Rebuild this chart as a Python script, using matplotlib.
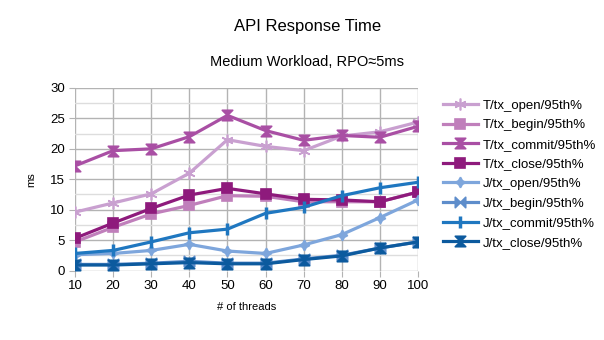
import numpy as np
import matplotlib
matplotlib.use("Agg")
import matplotlib.pyplot as plt
from matplotlib.path import Path
from matplotlib.ticker import MultipleLocator

plt.rcParams["font.family"] = ["Liberation Sans", "DejaVu Sans"]

# data
threads = [10, 20, 30, 40, 50, 60, 70, 80, 90, 100]

t_open = [9.6, 11.1, 12.6, 16.0, 21.5, 20.4, 19.7, 22.1, 22.8, 24.4]
t_begin = [4.7, 7.1, 9.3, 10.7, 12.3, 12.2, 11.3, 11.3, 11.3, 12.9]
t_commit = [17.2, 19.7, 20.0, 22.0, 25.5, 23.0, 21.4, 22.2, 21.9, 23.7]
t_close = [5.3, 7.8, 10.2, 12.4, 13.5, 12.6, 11.7, 11.6, 11.3, 12.9]
j_open = [2.6, 2.8, 3.3, 4.3, 3.2, 2.8, 4.2, 5.9, 8.7, 11.6]
j_begin = [1.0, 1.0, 1.2, 1.5, 1.2, 1.2, 1.9, 2.5, 3.7, 4.7]
j_commit = [2.8, 3.3, 4.7, 6.2, 6.8, 9.4, 10.4, 12.3, 13.6, 14.5]
j_close = [0.9, 0.9, 1.1, 1.3, 1.1, 1.1, 1.8, 2.4, 3.7, 4.7]

labels = ["T/tx_open/95th%", "T/tx_begin/95th%", "T/tx_commit/95th%", "T/tx_close/95th%",
          "J/tx_open/95th%", "J/tx_begin/95th%", "J/tx_commit/95th%", "J/tx_close/95th%"]
series = [t_open, t_begin, t_commit, t_close, j_open, j_begin, j_commit, j_close]
colors = ["#c9a0d0", "#c07fbb", "#a94fa4", "#8e1a7c",
          "#7ea6dc", "#5e8dcb", "#1f77c0", "#0c5a9e"]

# hourglass / bowtie markers
hourglass = Path([(-1, 1), (1, 1), (-1, -1), (1, -1), (-1, 1)],
                 [Path.MOVETO, Path.LINETO, Path.LINETO, Path.LINETO, Path.CLOSEPOLY])
bowtie = Path([(-1, 1), (-1, -1), (1, 1), (1, -1), (-1, 1)],
              [Path.MOVETO, Path.LINETO, Path.LINETO, Path.LINETO, Path.CLOSEPOLY])
markers = [(6, 2, 0), "s", hourglass, "s", (4, 1, 0), bowtie, "|", hourglass]
msizes = [8.5, 7, 7.5, 7.5, 7.5, 7.5, 8.5, 7.5]

fig = plt.figure(figsize=(6.04, 3.4), dpi=100)
ax = fig.add_axes([75 / 604, 1 - 270.5 / 340, (418 - 75) / 604, (270.5 - 88) / 340])

for vals, lab, c, m, ms in zip(series, labels, colors, markers, msizes):
    mew = 2.5 if m == "|" else 1.2
    ax.plot(threads, vals, color=c, lw=2.3, marker=m, markersize=ms,
            markerfacecolor=c, markeredgecolor=c, markeredgewidth=mew, label=lab)

ax.set_xlim(10, 100)
ax.set_ylim(0, 30)
ax.set_xticks(threads)
ax.yaxis.set_major_locator(MultipleLocator(5))
ax.yaxis.set_minor_locator(MultipleLocator(2.5))
ax.grid(True, which="major", color="#b3b3b3", lw=1)
ax.grid(True, which="minor", axis="y", color="#dddddd", lw=1)
ax.set_axisbelow(True)
for s in ax.spines.values():
    s.set_visible(False)
ax.tick_params(which="major", length=4, color="#b3b3b3", labelsize=9.5, pad=3)
ax.tick_params(which="minor", length=0)

ax.set_xlabel("# of threads", fontsize=8, labelpad=7)
ax.set_ylabel("ms", fontsize=8, labelpad=10)

fig.text(0.51, 1 - 27 / 340, "API Response Time", ha="center", va="center", fontsize=12)
fig.text(0.508, 1 - 62 / 340, "Medium Workload, RPO\u22485ms", ha="center", va="center", fontsize=10.5)

ax.legend(loc="upper left", bbox_to_anchor=(438 / 604, 1 - 94 / 340),
          bbox_transform=fig.transFigure, frameon=False, fontsize=9.5,
          handlelength=2.6, handletextpad=0.4, labelspacing=0.56, borderaxespad=0)

fig.savefig("out.png", dpi=100)
